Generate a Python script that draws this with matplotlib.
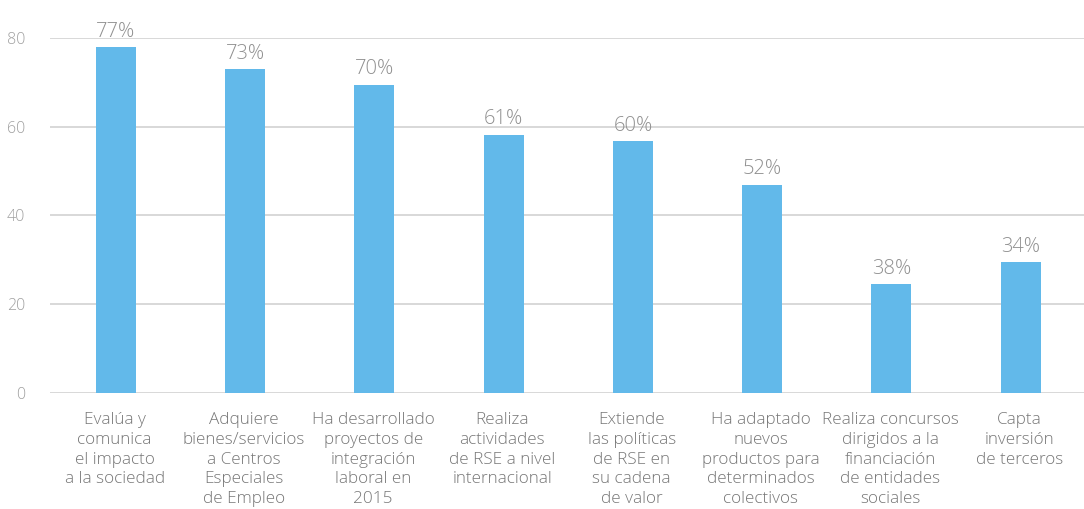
import matplotlib
matplotlib.use("Agg")
import matplotlib.pyplot as plt
import numpy as np

categorias = [
    "Evalúa y\ncomunica\nel impacto\na la sociedad",
    "Adquiere\nbienes/servicios\na Centros\nEspeciales\nde Empleo",
    "Ha desarrollado\nproyectos de\nintegración\nlaboral en\n2015",
    "Realiza\nactividades\nde RSE a nivel\ninternacional",
    "Extiende\nlas políticas\nde RSE en\nsu cadena\nde valor",
    "Ha adaptado\nnuevos\nproductos para\ndeterminados\ncolectivos",
    "Realiza concursos\ndirigidos a la\nfinanciación\nde entidades\nsociales",
    "Capta\ninversión\nde terceros",
]
valores = [78.0, 73.0, 69.5, 58.2, 56.8, 46.9, 24.5, 29.5]
etiquetas = ["77%", "73%", "70%", "61%", "60%", "52%", "38%", "34%"]
ticks_y = [0, 20, 40, 60, 80]

plt.rcParams['font.family'] = ['Open Sans', 'DejaVu Sans']

fig = plt.figure(figsize=(10.84, 5.09), dpi=100)
ax = fig.add_axes([50 / 1084, 1 - 392.7 / 509, 1 - 50 / 1084, (392.7 - 38) / 509])

x = np.arange(len(valores))
ax.bar(x + 0.01, valores, width=0.31, color="#62b9ea", zorder=3)

for xi, v, lab in zip(x, valores, etiquetas):
    ax.text(xi + 0.01, v + 1.2, lab, ha="center", va="bottom", fontsize=14.5,
            color="#909090", fontweight="light", clip_on=False)

ax.set_xlim(-0.5, len(valores) - 0.5)
ax.set_ylim(0, 80)
ax.set_yticks(ticks_y)
ax.set_yticklabels([str(t) for t in ticks_y], fontsize=11.5, color="#a0a0a0",
                   fontweight="light")
ax.set_xticks(x)
ax.set_xticklabels(categorias, fontsize=12.3, color="#777777", linespacing=1.31,
                   fontweight="light")
ax.tick_params(axis="y", length=0, pad=18)
ax.tick_params(axis="x", length=0, pad=14)
for lbl in ax.get_yticklabels():
    lbl.set_horizontalalignment("right")

ax.grid(axis="y", color="#d2d2d2", linewidth=1.2, zorder=0)
for s in ax.spines.values():
    s.set_visible(False)

fig.savefig("out.png", dpi=100)
